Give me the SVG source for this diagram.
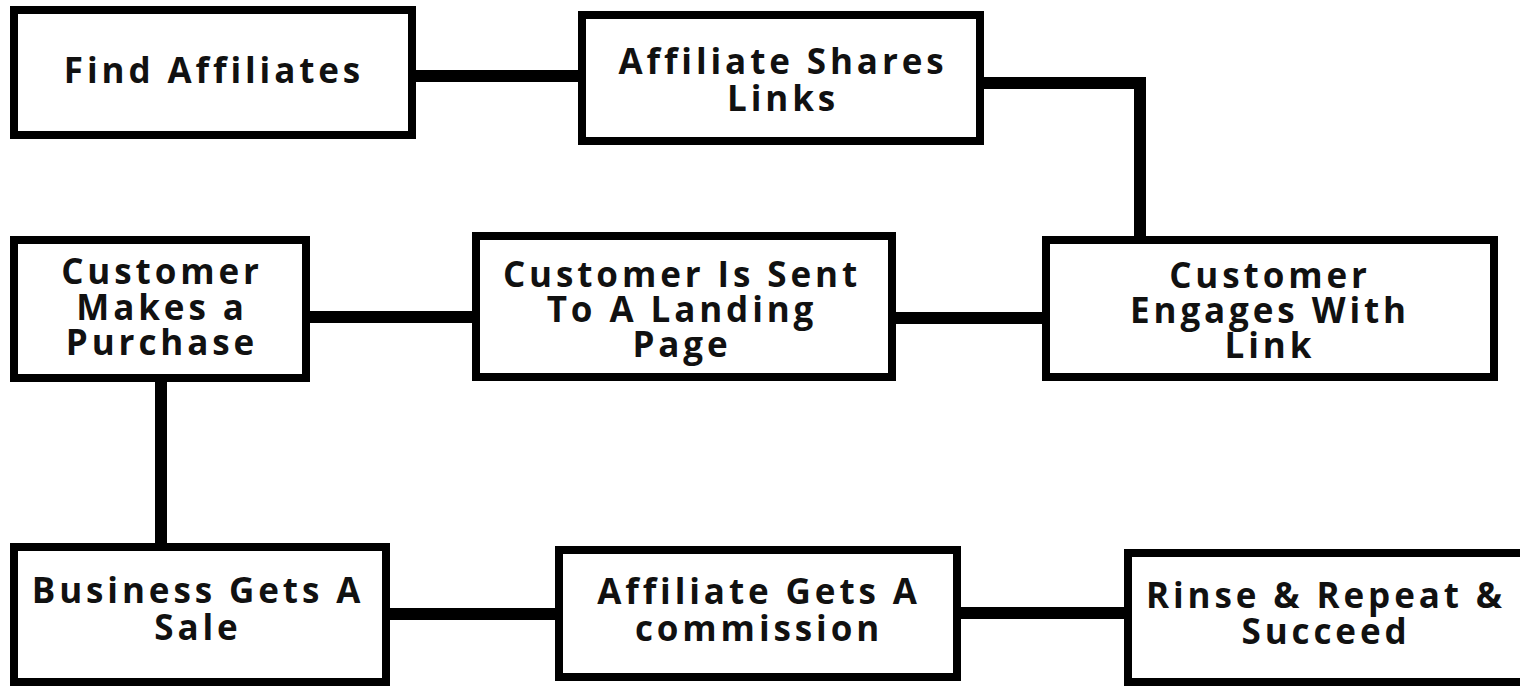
<svg xmlns="http://www.w3.org/2000/svg" width="1520" height="687" viewBox="0 0 1520 687">
<style>
.box{fill:#fff;stroke:#000;stroke-width:8}
.lbl{font-family:"Open Sans","DejaVu Sans",sans-serif;font-weight:700;font-size:35px;letter-spacing:3.9px;fill:#111;text-anchor:middle}
.con{fill:none;stroke:#000;stroke-width:12;stroke-linejoin:miter}
</style>
<rect width="1520" height="687" fill="#fff"/>
<g id="connectors">
<line class="con" x1="414" y1="76" x2="580" y2="76"/>
<polyline class="con" points="982,83 1140,83 1140,238"/>
<line class="con" x1="894" y1="318" x2="1044" y2="318"/>
<line class="con" x1="308" y1="317" x2="474" y2="317"/>
<line class="con" x1="161" y1="380" x2="161" y2="545"/>
<line class="con" x1="388" y1="614" x2="558" y2="614"/>
<line class="con" x1="959" y1="613" x2="1128" y2="613"/>
</g>
<g id="n1"><rect class="box" x="14" y="10" width="398" height="125"/>
<text class="lbl" x="214" y="83">Find Affiliates</text></g>
<g id="n2"><rect class="box" x="582" y="15" width="398" height="126"/>
<text class="lbl" x="783" y="74">Affiliate Shares</text><text class="lbl" x="783" y="111">Links</text></g>
<g id="n3"><rect class="box" x="1046" y="240" width="448" height="137"/>
<text class="lbl" x="1270" y="288">Customer</text><text class="lbl" x="1270" y="323">Engages With</text><text class="lbl" x="1270" y="358">Link</text></g>
<g id="n4"><rect class="box" x="476" y="236" width="416" height="141"/>
<text class="lbl" x="682" y="287">Customer Is Sent</text><text class="lbl" x="682" y="322">To A Landing</text><text class="lbl" x="682" y="357">Page</text></g>
<g id="n5"><rect class="box" x="14" y="240" width="292" height="138"/>
<text class="lbl" x="162" y="284">Customer</text><text class="lbl" x="162" y="320">Makes a</text><text class="lbl" x="162" y="355">Purchase</text></g>
<g id="n6"><rect class="box" x="14" y="547" width="372" height="135"/>
<text class="lbl" x="198" y="603">Business Gets A</text><text class="lbl" x="198" y="640">Sale</text></g>
<g id="n7"><rect class="box" x="559" y="550" width="398" height="127"/>
<text class="lbl" x="759" y="604">Affiliate Gets A</text><text class="lbl" x="759" y="641">commission</text></g>
<g id="n8"><rect class="box" x="1128" y="553" width="400" height="129"/>
<text class="lbl" x="1326" y="608">Rinse &amp; Repeat &amp;</text><text class="lbl" x="1326" y="644">Succeed</text></g>
</svg>
